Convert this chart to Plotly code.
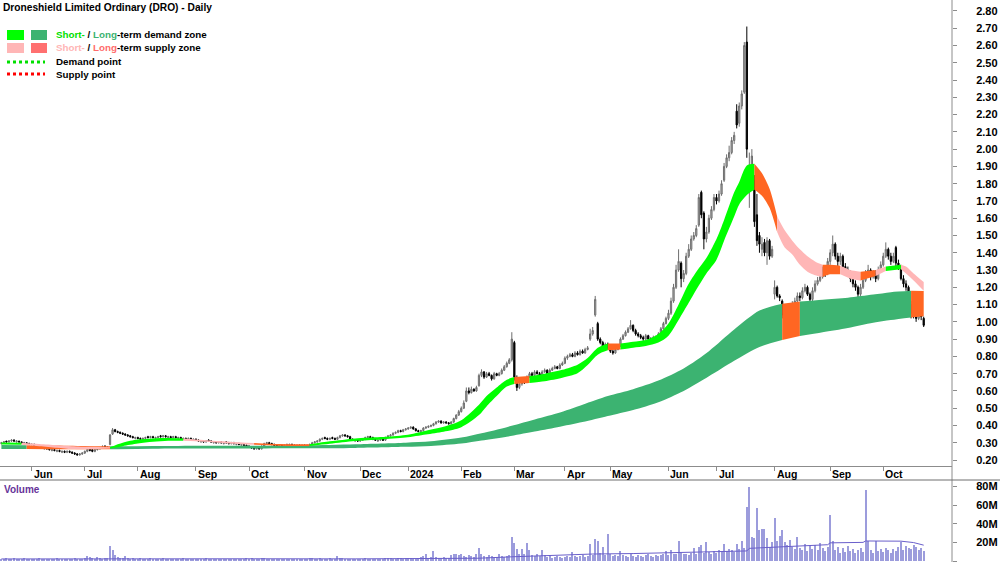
import pandas as pd
import plotly.graph_objects as go

# ---------------- calendar ----------------
non_trading_days = ["2023-06-12", "2023-12-25", "2023-12-26", "2024-01-01", "2024-01-26",
                    "2024-03-29", "2024-04-01", "2024-04-10", "2024-04-11", "2024-04-25", "2024-06-10"]
dates = [d for d in pd.bdate_range("2023-05-16", "2024-10-23") if d.strftime("%Y-%m-%d") not in non_trading_days]
n = len(dates)
idx = list(range(n))

# ---------------- prices (AUD) ----------------
opens = [
    0.295, 0.300, 0.310, 0.305, 0.310, 0.315, 0.305, 0.310, 0.305, 0.295, 0.300, 0.295,
    0.290, 0.290, 0.285, 0.280, 0.275, 0.265, 0.270, 0.265, 0.255, 0.260, 0.250, 0.255, 0.245, 0.250, 0.245, 0.250, 0.245, 0.240, 0.235, 0.230, 0.235,
    0.240, 0.250, 0.265, 0.260, 0.250, 0.260, 0.265, 0.270, 0.280, 0.270, 0.290, 0.350, 0.375, 0.365, 0.360, 0.355, 0.350, 0.345, 0.340, 0.335, 0.325,
    0.330, 0.325, 0.320, 0.325, 0.335, 0.330, 0.335, 0.325, 0.330, 0.340, 0.335, 0.340, 0.330, 0.335, 0.330, 0.335, 0.325, 0.330, 0.320, 0.325, 0.320, 0.325, 0.315,
    0.320, 0.315, 0.305, 0.310, 0.305, 0.315, 0.310, 0.300, 0.305, 0.300, 0.305, 0.295, 0.305, 0.300, 0.295, 0.300, 0.290, 0.295, 0.285, 0.290, 0.285,
    0.280, 0.275, 0.270, 0.265, 0.270, 0.265, 0.280, 0.295, 0.300, 0.295, 0.290, 0.285, 0.280, 0.285, 0.280, 0.285, 0.285, 0.290, 0.285, 0.280, 0.285, 0.280,
    0.285, 0.280, 0.285, 0.290, 0.300, 0.305, 0.310, 0.320, 0.330, 0.325, 0.320, 0.330, 0.325, 0.320, 0.330, 0.340, 0.345, 0.340, 0.335, 0.320, 0.310, 0.315,
    0.310, 0.315, 0.320, 0.330, 0.335, 0.330, 0.320, 0.310, 0.315, 0.320, 0.315, 0.330, 0.340, 0.345, 0.355, 0.360, 0.370, 0.365, 0.375,
    0.380, 0.385, 0.390, 0.380, 0.370, 0.365, 0.370, 0.385, 0.390, 0.395, 0.400, 0.410, 0.420, 0.425, 0.415, 0.420, 0.415, 0.410, 0.420, 0.440, 0.460,
    0.480, 0.500, 0.540, 0.600, 0.590, 0.610, 0.600, 0.630, 0.690, 0.710, 0.680, 0.700, 0.690, 0.670, 0.700, 0.690, 0.700, 0.720, 0.740, 0.760, 0.780,
    0.880, 0.670, 0.620, 0.640, 0.660, 0.650, 0.680, 0.700, 0.690, 0.710, 0.700, 0.690, 0.710, 0.720, 0.700, 0.720, 0.730, 0.740, 0.730, 0.750,
    0.760, 0.790, 0.800, 0.810, 0.800, 0.820, 0.810, 0.830, 0.820, 0.840, 0.900, 0.930, 1.040, 0.990, 0.900, 0.880, 0.860, 0.870,
    0.850, 0.830, 0.820, 0.840, 0.860, 0.900, 0.920, 0.940, 0.960, 0.980, 0.950, 0.930, 0.920, 0.910, 0.900, 0.920, 0.900, 0.890, 0.910, 0.900, 0.930, 0.960, 0.990,
    1.020, 1.050, 1.120, 1.200, 1.300, 1.340, 1.250, 1.280, 1.380, 1.420, 1.480, 1.500, 1.560, 1.750, 1.630, 1.480, 1.520, 1.600, 1.650,
    1.720, 1.700, 1.740, 1.820, 1.900, 1.950, 1.980, 2.050, 2.220, 2.150, 2.250, 2.330, 2.620, 1.820, 1.840, 1.820, 1.620, 1.500, 1.420, 1.460, 1.400, 1.470, 1.380,
    1.160, 1.200, 1.150, 1.120, 1.040, 0.980, 1.020, 1.060, 1.100, 1.120, 1.150, 1.140, 1.180, 1.200, 1.160, 1.130, 1.180, 1.220, 1.240, 1.260, 1.300, 1.280,
    1.350, 1.400, 1.450, 1.380, 1.350, 1.380, 1.320, 1.300, 1.280, 1.250, 1.220, 1.200, 1.160, 1.200, 1.240, 1.280, 1.300, 1.260, 1.280, 1.250, 1.300,
    1.330, 1.380, 1.420, 1.380, 1.350, 1.430, 1.340, 1.320, 1.250, 1.220, 1.200, 1.100, 1.050, 1.040, 1.020, 1.050, 1.020,
]
highs = [
    0.305, 0.310, 0.310, 0.315, 0.320, 0.320, 0.315, 0.310, 0.305, 0.305, 0.300, 0.300,
    0.295, 0.295, 0.290, 0.285, 0.280, 0.275, 0.275, 0.270, 0.265, 0.265, 0.260, 0.260, 0.255, 0.255, 0.255, 0.255, 0.250, 0.245, 0.240, 0.240, 0.245,
    0.255, 0.265, 0.270, 0.265, 0.265, 0.270, 0.275, 0.285, 0.285, 0.280, 0.350, 0.385, 0.380, 0.370, 0.365, 0.360, 0.355, 0.350, 0.345, 0.340, 0.335,
    0.335, 0.330, 0.330, 0.335, 0.340, 0.340, 0.340, 0.335, 0.340, 0.345, 0.345, 0.345, 0.340, 0.340, 0.340, 0.340, 0.335, 0.335, 0.330, 0.330, 0.330, 0.330, 0.325,
    0.325, 0.320, 0.315, 0.315, 0.315, 0.320, 0.315, 0.310, 0.310, 0.310, 0.310, 0.305, 0.310, 0.305, 0.305, 0.305, 0.300, 0.300, 0.295, 0.295, 0.290,
    0.285, 0.280, 0.275, 0.275, 0.275, 0.285, 0.300, 0.305, 0.305, 0.300, 0.295, 0.290, 0.290, 0.290, 0.290, 0.295, 0.295, 0.295, 0.290, 0.290, 0.290, 0.290,
    0.290, 0.290, 0.295, 0.305, 0.310, 0.315, 0.325, 0.330, 0.335, 0.330, 0.330, 0.335, 0.330, 0.335, 0.345, 0.350, 0.350, 0.345, 0.340, 0.325, 0.320, 0.320,
    0.320, 0.325, 0.335, 0.340, 0.340, 0.335, 0.325, 0.320, 0.325, 0.325, 0.335, 0.345, 0.350, 0.360, 0.365, 0.375, 0.375, 0.380, 0.385,
    0.390, 0.395, 0.395, 0.385, 0.375, 0.375, 0.390, 0.395, 0.400, 0.405, 0.415, 0.425, 0.430, 0.430, 0.425, 0.425, 0.420, 0.425, 0.445, 0.465, 0.490,
    0.510, 0.545, 0.620, 0.620, 0.625, 0.615, 0.630, 0.700, 0.725, 0.715, 0.710, 0.710, 0.695, 0.710, 0.705, 0.710, 0.730, 0.750, 0.770, 0.790, 0.940,
    0.890, 0.690, 0.650, 0.670, 0.670, 0.690, 0.710, 0.710, 0.720, 0.720, 0.710, 0.720, 0.730, 0.725, 0.730, 0.740, 0.750, 0.745, 0.760, 0.770,
    0.800, 0.810, 0.820, 0.820, 0.830, 0.830, 0.840, 0.840, 0.850, 0.860, 0.960, 0.970, 1.150, 1.000, 0.910, 0.890, 0.880, 0.880,
    0.860, 0.840, 0.850, 0.870, 0.910, 0.930, 0.950, 0.970, 1.010, 0.985, 0.960, 0.940, 0.930, 0.920, 0.930, 0.925, 0.910, 0.920, 0.920, 0.940, 0.970, 1.000, 1.030,
    1.070, 1.140, 1.220, 1.330, 1.420, 1.350, 1.300, 1.400, 1.450, 1.500, 1.520, 1.560, 1.740, 1.760, 1.640, 1.550, 1.620, 1.670, 1.740,
    1.740, 1.760, 1.820, 1.920, 1.970, 2.020, 2.070, 2.100, 2.260, 2.270, 2.340, 2.620, 2.710, 1.980, 2.000, 1.850, 1.740, 1.520, 1.490, 1.480, 1.490, 1.480, 1.440,
    1.240, 1.210, 1.160, 1.130, 1.050, 1.040, 1.080, 1.120, 1.140, 1.170, 1.170, 1.200, 1.220, 1.210, 1.170, 1.200, 1.240, 1.260, 1.280, 1.320, 1.320, 1.370,
    1.420, 1.500, 1.460, 1.400, 1.400, 1.390, 1.340, 1.320, 1.300, 1.270, 1.240, 1.210, 1.220, 1.260, 1.300, 1.330, 1.310, 1.300, 1.300, 1.320, 1.350,
    1.400, 1.460, 1.430, 1.400, 1.400, 1.440, 1.360, 1.330, 1.270, 1.240, 1.210, 1.120, 1.070, 1.060, 1.060, 1.060, 1.030,
]
lows = [
    0.290, 0.295, 0.300, 0.300, 0.305, 0.305, 0.300, 0.300, 0.295, 0.290, 0.290, 0.285,
    0.285, 0.280, 0.275, 0.270, 0.265, 0.260, 0.260, 0.255, 0.250, 0.250, 0.245, 0.245, 0.240, 0.240, 0.240, 0.240, 0.235, 0.230, 0.225, 0.225, 0.230,
    0.235, 0.245, 0.250, 0.245, 0.245, 0.255, 0.260, 0.265, 0.265, 0.265, 0.285, 0.345, 0.360, 0.355, 0.350, 0.345, 0.340, 0.335, 0.330, 0.325, 0.320,
    0.320, 0.315, 0.315, 0.320, 0.325, 0.325, 0.325, 0.320, 0.325, 0.330, 0.330, 0.330, 0.325, 0.325, 0.325, 0.325, 0.320, 0.320, 0.315, 0.315, 0.315, 0.315, 0.310,
    0.310, 0.305, 0.300, 0.300, 0.300, 0.305, 0.300, 0.295, 0.295, 0.295, 0.295, 0.290, 0.295, 0.290, 0.290, 0.290, 0.285, 0.285, 0.280, 0.280, 0.275,
    0.270, 0.265, 0.260, 0.260, 0.260, 0.260, 0.275, 0.290, 0.290, 0.285, 0.280, 0.275, 0.275, 0.275, 0.275, 0.280, 0.280, 0.280, 0.275, 0.275, 0.275, 0.275,
    0.275, 0.275, 0.280, 0.285, 0.295, 0.300, 0.305, 0.315, 0.320, 0.315, 0.315, 0.320, 0.315, 0.315, 0.325, 0.335, 0.335, 0.330, 0.315, 0.310, 0.305, 0.305,
    0.305, 0.310, 0.315, 0.325, 0.325, 0.315, 0.310, 0.305, 0.310, 0.310, 0.310, 0.325, 0.335, 0.340, 0.350, 0.355, 0.360, 0.360, 0.370,
    0.375, 0.380, 0.375, 0.365, 0.360, 0.360, 0.365, 0.380, 0.385, 0.390, 0.395, 0.405, 0.415, 0.410, 0.410, 0.410, 0.405, 0.405, 0.415, 0.435, 0.455,
    0.475, 0.495, 0.535, 0.580, 0.585, 0.595, 0.595, 0.625, 0.680, 0.670, 0.675, 0.685, 0.660, 0.665, 0.685, 0.685, 0.695, 0.715, 0.735, 0.755, 0.770,
    0.660, 0.600, 0.610, 0.630, 0.640, 0.645, 0.675, 0.680, 0.685, 0.695, 0.680, 0.685, 0.705, 0.695, 0.695, 0.715, 0.725, 0.725, 0.725, 0.745,
    0.755, 0.780, 0.795, 0.795, 0.795, 0.805, 0.805, 0.815, 0.815, 0.835, 0.890, 0.920, 1.030, 0.890, 0.870, 0.850, 0.850, 0.840,
    0.820, 0.810, 0.815, 0.835, 0.855, 0.895, 0.915, 0.935, 0.955, 0.940, 0.920, 0.910, 0.900, 0.890, 0.895, 0.890, 0.880, 0.885, 0.890, 0.895, 0.925, 0.955, 0.985,
    1.010, 1.040, 1.110, 1.190, 1.290, 1.200, 1.230, 1.270, 1.370, 1.410, 1.470, 1.490, 1.550, 1.600, 1.420, 1.460, 1.510, 1.590, 1.640,
    1.680, 1.690, 1.730, 1.810, 1.890, 1.930, 1.970, 2.030, 2.120, 2.130, 2.230, 2.320, 1.950, 1.660, 1.800, 1.550, 1.440, 1.400, 1.380, 1.380, 1.330, 1.360, 1.370,
    1.130, 1.140, 1.120, 1.020, 0.950, 0.970, 1.000, 1.050, 1.090, 1.110, 1.120, 1.130, 1.170, 1.150, 1.110, 1.120, 1.170, 1.210, 1.230, 1.250, 1.260, 1.270,
    1.330, 1.380, 1.360, 1.320, 1.330, 1.300, 1.280, 1.260, 1.230, 1.200, 1.180, 1.140, 1.150, 1.190, 1.230, 1.270, 1.240, 1.250, 1.230, 1.240, 1.290,
    1.320, 1.370, 1.360, 1.330, 1.340, 1.320, 1.300, 1.240, 1.200, 1.180, 1.090, 1.020, 1.020, 1.000, 1.010, 1.010, 0.970,
]
closes = [
    0.300, 0.305, 0.305, 0.310, 0.315, 0.310, 0.310, 0.305, 0.300, 0.300, 0.295, 0.290,
    0.290, 0.285, 0.280, 0.275, 0.270, 0.270, 0.265, 0.260, 0.260, 0.255, 0.255, 0.250, 0.250, 0.245, 0.250, 0.245, 0.240, 0.235, 0.230, 0.235, 0.240,
    0.250, 0.260, 0.255, 0.250, 0.260, 0.265, 0.270, 0.275, 0.270, 0.275, 0.345, 0.375, 0.365, 0.360, 0.355, 0.350, 0.345, 0.340, 0.335, 0.330, 0.330,
    0.325, 0.320, 0.325, 0.330, 0.330, 0.335, 0.330, 0.330, 0.335, 0.335, 0.340, 0.335, 0.335, 0.330, 0.335, 0.330, 0.330, 0.325, 0.325, 0.320, 0.325, 0.320, 0.320,
    0.315, 0.310, 0.310, 0.305, 0.310, 0.310, 0.305, 0.305, 0.300, 0.305, 0.300, 0.300, 0.300, 0.295, 0.300, 0.295, 0.295, 0.290, 0.290, 0.285, 0.280,
    0.275, 0.270, 0.265, 0.270, 0.265, 0.280, 0.295, 0.300, 0.295, 0.290, 0.285, 0.280, 0.285, 0.280, 0.285, 0.290, 0.290, 0.285, 0.280, 0.285, 0.280, 0.285,
    0.280, 0.285, 0.290, 0.300, 0.305, 0.310, 0.320, 0.325, 0.325, 0.320, 0.325, 0.325, 0.320, 0.330, 0.340, 0.345, 0.340, 0.335, 0.320, 0.315, 0.315, 0.310,
    0.315, 0.320, 0.330, 0.335, 0.330, 0.320, 0.315, 0.315, 0.320, 0.315, 0.330, 0.340, 0.345, 0.355, 0.360, 0.370, 0.365, 0.375, 0.380,
    0.385, 0.390, 0.380, 0.370, 0.365, 0.370, 0.385, 0.390, 0.395, 0.400, 0.410, 0.420, 0.425, 0.415, 0.420, 0.415, 0.410, 0.420, 0.440, 0.460, 0.480,
    0.500, 0.530, 0.600, 0.590, 0.610, 0.600, 0.620, 0.690, 0.710, 0.680, 0.700, 0.690, 0.670, 0.700, 0.690, 0.700, 0.720, 0.740, 0.760, 0.780, 0.900,
    0.680, 0.620, 0.640, 0.660, 0.650, 0.680, 0.700, 0.690, 0.710, 0.700, 0.690, 0.710, 0.720, 0.700, 0.720, 0.730, 0.740, 0.730, 0.750, 0.760,
    0.790, 0.800, 0.810, 0.800, 0.820, 0.810, 0.830, 0.820, 0.840, 0.850, 0.930, 0.950, 1.130, 0.900, 0.880, 0.860, 0.870, 0.850,
    0.830, 0.820, 0.840, 0.860, 0.900, 0.920, 0.940, 0.960, 0.980, 0.950, 0.930, 0.920, 0.910, 0.900, 0.920, 0.900, 0.890, 0.910, 0.900, 0.930, 0.960, 0.990, 1.020,
    1.050, 1.120, 1.200, 1.300, 1.350, 1.250, 1.280, 1.380, 1.420, 1.480, 1.500, 1.540, 1.720, 1.620, 1.480, 1.520, 1.600, 1.650, 1.720,
    1.700, 1.740, 1.800, 1.900, 1.950, 1.980, 2.050, 2.080, 2.140, 2.250, 2.320, 2.600, 2.000, 1.900, 1.960, 1.580, 1.470, 1.450, 1.450, 1.400, 1.470, 1.380, 1.420,
    1.200, 1.150, 1.140, 1.040, 1.000, 1.020, 1.060, 1.100, 1.120, 1.150, 1.140, 1.180, 1.200, 1.160, 1.130, 1.180, 1.220, 1.240, 1.260, 1.300, 1.280, 1.350,
    1.400, 1.450, 1.380, 1.350, 1.380, 1.320, 1.300, 1.280, 1.250, 1.220, 1.200, 1.160, 1.200, 1.240, 1.280, 1.300, 1.260, 1.280, 1.250, 1.300, 1.330,
    1.380, 1.420, 1.380, 1.350, 1.380, 1.340, 1.320, 1.250, 1.220, 1.200, 1.100, 1.050, 1.040, 1.020, 1.050, 1.030, 0.980,
]

# ---------------- volume (millions of shares) ----------------
volume_m = [
    2, 2, 3, 2, 2, 3, 2, 2, 2, 3, 2, 2,
    2, 2, 2, 3, 2, 2, 2, 2, 2, 2, 3, 2, 2, 2, 2, 2, 2, 3, 2, 2, 2,
    3, 5, 4, 3, 2, 4, 3, 2, 3, 3, 16, 12, 6, 4, 3, 3, 5, 3, 2, 3, 2,
    2, 3, 2, 2, 2, 3, 2, 2, 2, 2, 3, 2, 2, 2, 2, 2, 2, 2, 3, 2, 2, 2, 2,
    2, 2, 2, 2, 3, 2, 2, 2, 2, 2, 2, 2, 2, 2, 2, 2, 2, 2, 2, 2, 3,
    2, 3, 2, 2, 2, 3, 3, 2, 2, 2, 2, 2, 2, 2, 2, 2, 2, 2, 2, 2, 2, 2,
    2, 2, 3, 3, 2, 2, 3, 2, 2, 2, 3, 2, 2, 5, 3, 3, 2, 2, 2, 2, 2, 2,
    2, 2, 3, 2, 2, 2, 2, 2, 2, 2, 3, 3, 3, 2, 2, 3, 3, 2, 3,
    3, 3, 2, 2, 3, 4, 5, 8, 3, 4, 11, 4, 3, 3, 4, 3, 3, 6, 7, 8, 6,
    7, 5, 4, 6, 5, 4, 7, 14, 7, 5, 4, 6, 5, 4, 4, 7, 5, 4, 5, 6, 26,
    19, 13, 8, 13, 7, 19, 12, 6, 5, 8, 5, 12, 6, 4, 5, 3, 4, 5, 4, 3,
    4, 5, 4, 10, 5, 4, 5, 6, 4, 5, 18, 6, 24, 21, 9, 15, 6, 29,
    8, 5, 6, 5, 11, 6, 5, 4, 7, 5, 4, 6, 5, 4, 6, 7, 5, 4, 6, 5, 6, 8, 11,
    6, 12, 7, 8, 22, 9, 7, 8, 6, 9, 14, 7, 15, 17, 9, 20, 10, 8, 11,
    9, 12, 10, 18, 11, 13, 12, 10, 18, 13, 22, 14, 58, 79, 26, 25, 57, 33, 34, 34, 25, 15, 20,
    46, 22, 27, 33, 20, 17, 23, 15, 13, 26, 14, 12, 18, 11, 16, 13, 17, 12, 19, 14, 11, 15,
    49, 22, 12, 15, 9, 14, 10, 16, 11, 13, 9, 12, 14, 10, 76, 22, 12, 9, 22, 11, 13,
    10, 14, 12, 9, 13, 11, 15, 20, 12, 16, 14, 13, 17, 15, 12, 14, 11,
]
vma_idx = [0, 40, 44, 80, 100, 140, 170, 189, 202, 210, 225, 234, 250, 265, 282, 295, 296, 305, 315, 327, 328, 341, 342, 356, 361, 365]
vma_val = [2.2, 2.4, 2.9, 2.9, 2.4, 2.3, 2.8, 3.0, 4.5, 5.4, 6.4, 7.5, 8.0, 9.0, 9.6, 10.8, 13.6, 15.0, 16.0, 17.5, 19.5, 20.0, 21.5, 21.3, 19.8, 17.0]

# ---------------- zones ----------------
st_idx = [0, 8, 15, 22, 28, 35, 43, 48, 54, 60, 66, 72, 80, 90, 100, 110, 122, 130, 140, 150, 160, 168, 175, 182, 189, 192,
          196, 200, 203, 209, 215, 222, 228, 232, 236, 240, 245, 250, 255, 260, 264, 268, 272, 276, 279, 283, 286, 290, 292,
          295, 298, 301, 304, 307, 310, 313, 316, 319, 322, 325, 328, 332, 336, 340, 346, 350, 356, 358, 361, 365]
st_upper = [0.302, 0.300, 0.293, 0.286, 0.280, 0.276, 0.274, 0.300, 0.318, 0.325, 0.327, 0.325, 0.316, 0.306, 0.298, 0.292,
            0.291, 0.308, 0.325, 0.333, 0.345, 0.370, 0.392, 0.430, 0.520, 0.570, 0.620, 0.665, 0.680, 0.686, 0.700, 0.722,
            0.752, 0.790, 0.850, 0.875, 0.875, 0.885, 0.895, 0.930, 0.990, 1.100, 1.220, 1.310, 1.370, 1.480, 1.590, 1.750,
            1.810, 1.905, 1.915, 1.860, 1.770, 1.610, 1.530, 1.470, 1.420, 1.380, 1.350, 1.330, 1.330, 1.325, 1.300, 1.290,
            1.300, 1.320, 1.330, 1.320, 1.280, 1.230]
st_lower = [0.290, 0.288, 0.280, 0.271, 0.263, 0.262, 0.266, 0.280, 0.295, 0.305, 0.311, 0.312, 0.306, 0.296, 0.288, 0.283,
            0.281, 0.294, 0.310, 0.319, 0.330, 0.348, 0.364, 0.390, 0.460, 0.510, 0.570, 0.625, 0.640, 0.646, 0.656, 0.676,
            0.702, 0.750, 0.810, 0.835, 0.840, 0.850, 0.860, 0.880, 0.920, 1.010, 1.110, 1.210, 1.280, 1.360, 1.470, 1.610,
            1.680, 1.735, 1.765, 1.730, 1.660, 1.520, 1.430, 1.390, 1.330, 1.290, 1.270, 1.260, 1.275, 1.275, 1.250, 1.240,
            1.265, 1.295, 1.305, 1.280, 1.240, 1.180]
st_seg_start = [0, 8, 43, 72, 100, 122, 203, 209, 240, 245, 298, 307, 325, 332, 340, 346, 350, 356]
st_seg_end = [8, 43, 72, 100, 122, 203, 209, 240, 245, 298, 307, 325, 332, 340, 346, 350, 356, 365]
st_seg_kind = ["sd", "ss", "sd", "ss", "sx", "sd", "sx", "sd", "sx", "sd", "sx", "ss", "sx", "ss", "sx", "ss", "sd", "ss"]

lt_idx = [0, 10, 20, 33, 43, 60, 80, 100, 120, 140, 160, 170, 182, 190, 200, 210, 220, 230, 240, 250, 260, 270, 280, 290,
          300, 309, 316, 325, 335, 345, 352, 360, 365]
lt_upper = [0.287, 0.286, 0.284, 0.281, 0.279, 0.281, 0.283, 0.283, 0.284, 0.291, 0.300, 0.308, 0.330, 0.355, 0.390, 0.430,
            0.470, 0.520, 0.570, 0.610, 0.660, 0.730, 0.830, 0.955, 1.065, 1.105, 1.118, 1.128, 1.140, 1.158, 1.172, 1.180, 1.178]
lt_lower = [0.264, 0.263, 0.262, 0.262, 0.262, 0.265, 0.266, 0.267, 0.268, 0.270, 0.276, 0.281, 0.295, 0.313, 0.335, 0.362,
            0.390, 0.420, 0.455, 0.490, 0.535, 0.600, 0.685, 0.775, 0.855, 0.895, 0.918, 0.940, 0.965, 0.995, 1.010, 1.025, 1.032]
lt_seg_start = [0, 10, 43, 309, 316, 360]
lt_seg_end = [10, 43, 309, 316, 360, 365]
lt_seg_kind = ["ld", "sx", "ld", "sx", "ld", "sx"]

zone_colors = {"sd": "#00FF00", "ss": "#FFB6B6", "sx": "#FF6622", "ld": "#3CB371", "ls": "#FF7070"}

assert len(opens) == len(highs) == len(lows) == len(closes) == len(volume_m) == n, (len(opens), len(highs), len(lows), len(closes), len(volume_m), n)

# ---------------- geometry ----------------
W, H = 1000, 562
PLOT_W = 952
def xp(px):
    return px / PLOT_W
def yp(py):
    return 1 - py / H

FONT = "Liberation Sans, Arial, sans-serif"
fig = go.Figure()

def add_zone(pidx, up, lo, starts, ends, kinds):
    for s, e, k in zip(starts, ends, kinds):
        sel = [j for j, i in enumerate(pidx) if s <= i <= e]
        xs = [pidx[j] for j in sel]
        fig.add_trace(go.Scatter(x=xs, y=[lo[j] for j in sel], mode="lines",
                                 line=dict(width=0, shape="spline", smoothing=0.8),
                                 hoverinfo="skip", showlegend=False, xaxis="x", yaxis="y"))
        fig.add_trace(go.Scatter(x=xs, y=[up[j] for j in sel], mode="lines",
                                 line=dict(width=0, shape="spline", smoothing=0.8),
                                 fill="tonexty", fillcolor=zone_colors[k],
                                 hoverinfo="skip", showlegend=False, xaxis="x", yaxis="y"))

add_zone(lt_idx, lt_upper, lt_lower, lt_seg_start, lt_seg_end, lt_seg_kind)
add_zone(st_idx, st_upper, st_lower, st_seg_start, st_seg_end, st_seg_kind)

fig.add_trace(go.Candlestick(
    x=idx, open=opens, high=highs, low=lows, close=closes,
    increasing=dict(line=dict(color="#6E6E6E", width=1), fillcolor="#B4B4B4"),
    decreasing=dict(line=dict(color="#000000", width=1), fillcolor="#000000"),
    whiskerwidth=0, showlegend=False, xaxis="x", yaxis="y"))

fig.add_trace(go.Bar(x=idx, y=volume_m, width=0.42, marker=dict(color="#9C9CDC", line=dict(width=0)),
                     showlegend=False, xaxis="x2", yaxis="y2"))
fig.add_trace(go.Scatter(x=vma_idx, y=vma_val, mode="lines", line=dict(color="#6A5FCB", width=1),
                         showlegend=False, xaxis="x2", yaxis="y2"))

# month ticks
month_idx, month_lbl = [], []
for i in range(1, n):
    if dates[i].month != dates[i - 1].month:
        month_idx.append(i)
        month_lbl.append(str(dates[i].year) if dates[i].month == 1 else dates[i].strftime("%b"))

XR = [-0.55, 376.2]
price_ticks = [round(0.2 + 0.1 * k, 2) for k in range(27)]
vol_ticks = [0, 20, 40, 60, 80]
vol_text = ["0", "20M", "40M", "60M", "80M"]

fig.update_layout(
    width=W, height=H, margin=dict(l=0, r=W - PLOT_W, t=0, b=0),
    paper_bgcolor="white", plot_bgcolor="white", showlegend=False,
    font=dict(family=FONT, size=11, color="black"),
    bargap=0,
    xaxis=dict(domain=[0, 1], range=XR, anchor="y", showgrid=False, zeroline=False,
               showline=True, linecolor="#8C8C8C", linewidth=1, mirror=False,
               ticks="outside", ticklen=4, tickcolor="#8C8C8C", tickvals=month_idx,
               showticklabels=False, rangeslider=dict(visible=False), fixedrange=True),
    yaxis=dict(domain=[yp(466), 1], range=[0.20 - 6 * 0.1 / 17.27, 0.20 + 460 * 0.1 / 17.27],
               side="right", anchor="x", showgrid=False, zeroline=False, showline=False,
               ticks="outside", ticklen=4, tickcolor="#8C8C8C", tickvals=price_ticks,
               tickformat=".2f", ticklabelstandoff=17,
               tickfont=dict(family=FONT, size=11, color="black", weight="bold")),
    xaxis2=dict(domain=[0, 1], range=XR, anchor="y2", showgrid=False, zeroline=False,
                showline=False, showticklabels=False, ticks=""),
    yaxis2=dict(domain=[0, yp(480)], range=[-(562 - 561) / 0.931, (561 - 480) / 0.931],
                side="right", anchor="x2", showgrid=False, zeroline=False, showline=False,
                ticks="outside", ticklen=4, tickcolor="#8C8C8C", tickvals=vol_ticks, ticktext=vol_text,
                ticklabelstandoff=17,
                tickfont=dict(family=FONT, size=11, color="black", weight="bold")),
)

shapes = [
    dict(type="line", xref="paper", yref="paper", x0=1, x1=1, y0=0, y1=1, line=dict(color="#8C8C8C", width=1)),
    dict(type="line", xref="paper", yref="paper", x0=0, x1=W / PLOT_W, y0=yp(480), y1=yp(480), line=dict(color="#6E6E6E", width=1)),
    # legend swatches
    dict(type="rect", xref="paper", yref="paper", x0=xp(7), x1=xp(24), y0=yp(40), y1=yp(30), fillcolor="#00FF00", line=dict(width=0)),
    dict(type="rect", xref="paper", yref="paper", x0=xp(31), x1=xp(47), y0=yp(40), y1=yp(30), fillcolor="#3CB371", line=dict(width=0)),
    dict(type="rect", xref="paper", yref="paper", x0=xp(7), x1=xp(24), y0=yp(53), y1=yp(43), fillcolor="#FFB6B6", line=dict(width=0)),
    dict(type="rect", xref="paper", yref="paper", x0=xp(31), x1=xp(47), y0=yp(53), y1=yp(43), fillcolor="#FF7070", line=dict(width=0)),
    dict(type="line", xref="paper", yref="paper", x0=xp(7), x1=xp(45), y0=yp(62), y1=yp(62), line=dict(color="#00E000", width=3, dash="dot")),
    dict(type="line", xref="paper", yref="paper", x0=xp(7), x1=xp(45), y0=yp(74), y1=yp(74), line=dict(color="#FF0000", width=3, dash="dot")),
]
fig.update_layout(shapes=shapes)

ann = [
    dict(text="<b>Droneshield Limited Ordinary (DRO) - Daily</b>", x=xp(1), y=yp(7), xanchor="left", yanchor="middle",
         xref="paper", yref="paper", showarrow=False, font=dict(family=FONT, size=10.2, color="black")),
    dict(text='<b><span style="color:#00E000">Short-</span> / <span style="color:#3CB371">Long</span>-term demand zone</b>',
         x=xp(54), y=yp(35), xanchor="left", yanchor="middle", xref="paper", yref="paper", showarrow=False,
         font=dict(family=FONT, size=9.8, color="black")),
    dict(text='<b><span style="color:#FFB6B6">Short-</span> / <span style="color:#FF6B6B">Long</span>-term supply zone</b>',
         x=xp(54), y=yp(48), xanchor="left", yanchor="middle", xref="paper", yref="paper", showarrow=False,
         font=dict(family=FONT, size=9.8, color="black")),
    dict(text="<b>Demand point</b>", x=xp(54), y=yp(62), xanchor="left", yanchor="middle", xref="paper", yref="paper",
         showarrow=False, font=dict(family=FONT, size=9.8, color="black")),
    dict(text="<b>Supply point</b>", x=xp(54), y=yp(74), xanchor="left", yanchor="middle", xref="paper", yref="paper",
         showarrow=False, font=dict(family=FONT, size=9.8, color="black")),
    dict(text="<b>Volume</b>", x=xp(2), y=yp(489), xanchor="left", yanchor="middle", xref="paper", yref="paper",
         showarrow=False, font=dict(family=FONT, size=10, color="#663399")),
]
for mi, ml in zip(month_idx, month_lbl):
    ann.append(dict(text="<b>%s</b>" % ml, x=mi, xref="x", y=yp(474), yref="paper", xanchor="left", yanchor="middle",
                    xshift=0, showarrow=False, font=dict(family=FONT, size=10.5, color="black")))
fig.update_layout(annotations=ann)

fig.write_html("out.html")
